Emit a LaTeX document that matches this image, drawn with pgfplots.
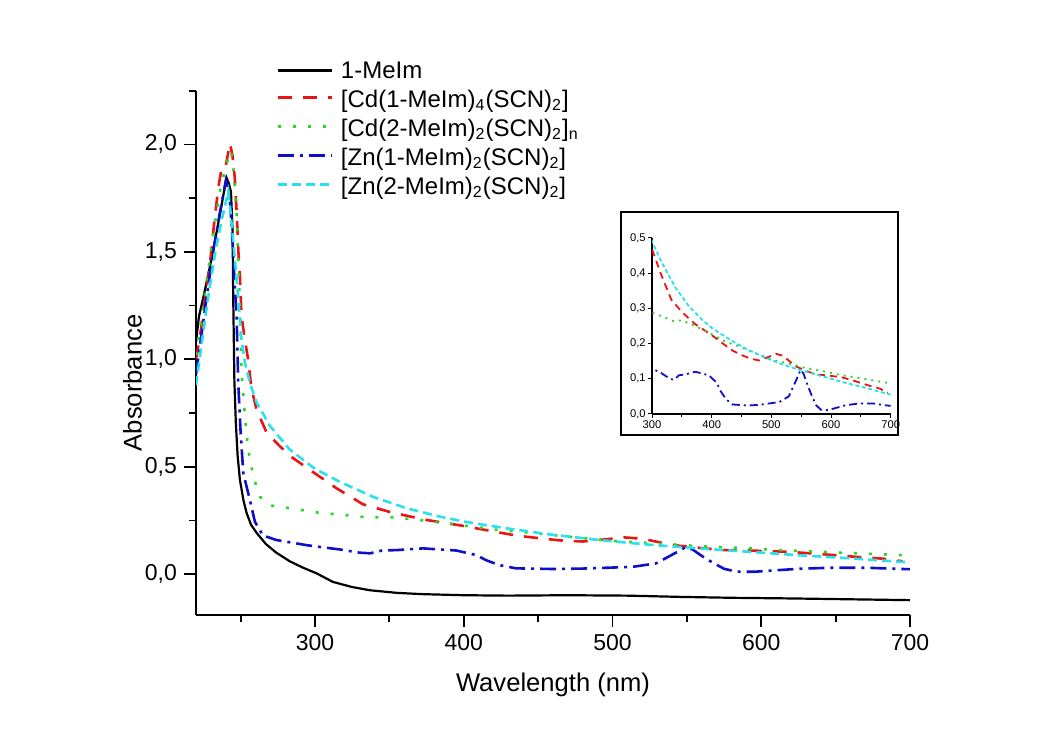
\documentclass[border=0pt]{standalone}
\usepackage{fontspec}
\setmainfont{Liberation Sans}
\usepackage{pgfplots}
\pgfplotsset{compat=1.18}
\usepackage{pgfplotstable}

\definecolor{cRed}{RGB}{235,20,20}
\definecolor{cGreen}{RGB}{40,215,40}
\definecolor{cBlue}{RGB}{15,15,200}
\definecolor{cCyan}{RGB}{40,225,235}

\newcommand{\rA}{\rule[-2pt]{0pt}{11pt}}
\newcommand{\rB}{\rule[-6pt]{0pt}{17pt}}

\pgfplotstableread{
x y
220 1.08
222 1.20
225 1.29
229 1.42
233 1.56
237 1.71
240.5 1.845
242 1.82
243.5 1.78
244.6 1.60
245 1.30
245.8 0.90
246.8 0.70
248 0.55
249.5 0.44
252 0.34
254 0.285
257 0.23
261 0.19
267 0.14
274 0.10
283 0.06
292 0.03
301 0.004
312 -0.036
325 -0.060
337 -0.075
355 -0.087
372 -0.093
400 -0.098
430 -0.100
470 -0.098
510 -0.100
547 -0.106
580 -0.110
620 -0.113
660 -0.117
700 -0.121
}\tblack

\pgfplotstableread{
x y
220 1.00
223 1.12
226 1.28
229 1.42
232 1.62
235 1.80
237.5 1.90
240 1.90
242.8 2.005
244.5 1.95
246 1.85
247.3 1.69
248.5 1.50
249.5 1.39
250.6 1.20
252.9 1.09
255 1.00
257.4 0.86
260.7 0.766
267.4 0.66
276.4 0.595
285.3 0.54
298.7 0.475
314.4 0.40
332.3 0.325
350 0.29
372.5 0.255
399.4 0.225
419 0.20
435 0.18
451 0.167
465 0.157
480 0.152
495 0.162
508 0.171
520 0.165
531 0.149
542.6 0.134
559 0.122
575 0.112
592 0.110
618.7 0.104
641 0.093
663 0.081
682 0.072
695 0.060
}\tred

\pgfplotstableread{
x y
220 1.02
224 1.20
228 1.40
232 1.60
236 1.78
240 1.90
243.5 1.97
245 1.90
247.3 1.69
249.5 1.25
250.6 0.94
252.9 0.735
255.1 0.58
258.5 0.455
263 0.36
269.7 0.32
283 0.307
301.7 0.287
320 0.275
335.7 0.264
349.6 0.266
372.6 0.250
391.6 0.234
424 0.205
447.4 0.191
470 0.175
503.2 0.153
530 0.143
559 0.130
592 0.120
615 0.111
640 0.104
665 0.097
700 0.087
}\tgreen

\pgfplotstableread{
x y
220 0.93
224 1.13
228 1.33
232 1.52
236 1.68
240 1.83
241.5 1.80
243 1.72
245 1.50
246 1.35
247.3 1.20
248.4 0.89
250 0.66
251.8 0.47
256.2 0.346
259.6 0.244
265 0.18
274 0.159
294.3 0.135
305 0.125
316.6 0.115
330 0.100
337 0.097
345 0.110
355 0.112
372.6 0.120
395 0.110
408.4 0.089
415 0.065
424 0.042
435.2 0.027
460 0.024
480 0.026
513.5 0.034
529.2 0.050
540 0.090
549 0.125
553.8 0.115
560 0.085
567 0.055
575 0.025
583 0.012
595 0.011
610 0.018
625 0.025
647.7 0.030
670 0.030
690 0.025
700 0.023
}\tblue

\pgfplotstableread{
x y
220 0.88
224 1.08
228 1.28
233 1.50
237 1.64
241.7 1.78
243 1.70
245 1.55
247 1.40
248.4 1.28
250.6 1.09
252.9 0.985
256.2 0.89
260.7 0.80
269.7 0.69
283 0.58
300 0.49
316.6 0.43
339 0.36
361.4 0.307
383.8 0.268
400 0.245
415 0.228
430 0.212
457.6 0.185
491 0.159
524.7 0.137
558 0.120
592 0.104
625 0.088
659 0.074
692.5 0.058
700 0.055
}\tcyan

\begin{document}
\begin{tikzpicture}
\useasboundingbox (0,0) rectangle (520.5pt,365.5pt);
\begin{axis}[
  at={(98pt,58pt)}, anchor=south west,
  scale only axis, width=357pt, height=262.15pt,
  xmin=220, xmax=700, ymin=-0.19, ymax=2.25,
  axis x line*=bottom, axis y line*=left,
  axis line style={-, line width=1pt},
  xtick={300,400,...,700}, minor xtick={250,350,...,650},
  ytick={0,0.5,...,2.0}, minor ytick={0.25,0.75,...,2.25},
  tick align=outside,
  major tick length=6pt, minor tick length=3.5pt,
  every tick/.style={black, line width=0.9pt},
  /pgf/number format/assume math mode=true,
  yticklabel style={/pgf/number format/.cd, use comma, fixed, fixed zerofill, precision=1},
  xticklabel style={/pgf/number format/.cd, 1000 sep={}},
  tick label style={font=\fontsize{11.5}{13}\selectfont},
  xlabel={Wavelength (nm)}, ylabel={Absorbance},
  label style={font=\fontsize{12.8}{15}\selectfont},
  xlabel style={at={(axis description cs:0.5,-0.1335)}, anchor=center},
  ylabel style={at={(axis description cs:-0.089,0.4425)}, anchor=center},
  legend style={at={(axis description cs:0.112,1.0631)}, anchor=north west,
    draw=none, fill=none, inner sep=0pt, font=\fontsize{12}{14}\selectfont,
    nodes={inner sep=1pt}, row sep=0pt, column sep=3pt, cells={anchor=west}},
  legend image code/.code={\draw[#1] (0pt,0pt) -- (27pt,0pt);},
]
\addplot[black, line width=1.1pt] table {\tblack};
\addlegendentry{\rA 1-MeIm}
\addplot[cRed, line width=1.3pt, dash pattern=on 7pt off 5.5pt] table {\tred};
\addlegendentry{\rB[Cd(1-MeIm)\textsubscript{4}(SCN)\textsubscript{2}]}
\addplot[cGreen, line width=1.3pt, dash pattern=on 1.5pt off 6pt] table {\tgreen};
\addlegendentry{\rB[Cd(2-MeIm)\textsubscript{2}(SCN)\textsubscript{2}]\textsubscript{n}}
\addplot[cBlue, line width=1.3pt, dash pattern=on 8pt off 3pt on 1.5pt off 3pt] table {\tblue};
\addlegendentry{\rB[Zn(1-MeIm)\textsubscript{2}(SCN)\textsubscript{2}]}
\addplot[cCyan, line width=1.3pt, dash pattern=on 4.5pt off 2.5pt] table {\tcyan};
\addlegendentry{\rB[Zn(2-MeIm)\textsubscript{2}(SCN)\textsubscript{2}]}
\end{axis}

\draw[line width=1.1pt, fill=white] (310.5pt,148pt) rectangle (449pt,259.5pt);

\begin{axis}[
  at={(326pt,158.5pt)}, anchor=south west,
  scale only axis, width=119.35pt, height=88pt,
  xmin=300, xmax=700, ymin=0, ymax=0.5,
  axis x line*=bottom, axis y line*=left,
  axis line style={-, line width=0.6pt},
  xtick={300,400,...,700}, minor xtick={350,450,...,650},
  ytick={0,0.1,...,0.5},
  tick align=outside,
  major tick length=2pt, minor tick length=1.5pt,
  every tick/.style={black, line width=0.5pt},
  /pgf/number format/assume math mode=true,
  yticklabel style={/pgf/number format/.cd, use comma, fixed, fixed zerofill, precision=1},
  xticklabel style={/pgf/number format/.cd, 1000 sep={}},
  tick label style={font=\fontsize{5.6}{6.5}\selectfont, inner sep=1pt},
  clip=true,
]
\addplot[cRed, line width=0.9pt, dash pattern=on 3.5pt off 2.5pt] table {\tred};
\addplot[cGreen, line width=0.9pt, dash pattern=on 1pt off 2.5pt] table {\tgreen};
\addplot[cBlue, line width=0.9pt, dash pattern=on 4pt off 2pt on 1pt off 2pt] table {\tblue};
\addplot[cCyan, line width=0.9pt, dash pattern=on 2pt off 1.3pt] table {\tcyan};
\end{axis}
\end{tikzpicture}
\end{document}
